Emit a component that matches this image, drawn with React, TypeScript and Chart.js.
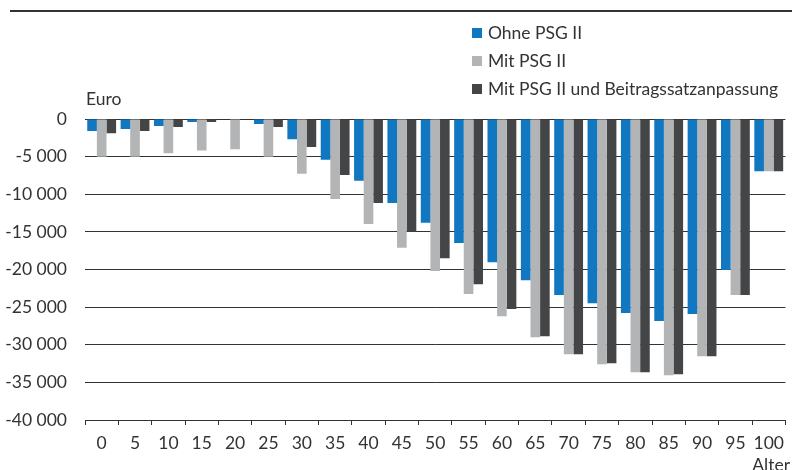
import React, { useEffect, useRef } from "react";
import { Chart, registerables } from "chart.js";

Chart.register(...registerables);

const ages = ["0", "5", "10", "15", "20", "25", "30", "35", "40", "45", "50", "55", "60", "65", "70", "75", "80", "85", "90", "95", "100"];
const ohnePSG = [-1600, -1340, -940, -400, 0, -670, -2680, -5400, -8190, -11170, -13780, -16490, -19020, -21420, -23380, -24480, -25770, -26830, -25900, -20050, -6950];
const mitPSG = [-5000, -5000, -4560, -4200, -4020, -5000, -7260, -10640, -13960, -17100, -20200, -23250, -26210, -29000, -31260, -32590, -33660, -34060, -31530, -23380, -6950];
const mitBeitrag = [-1880, -1600, -1070, -400, 0, -1070, -3720, -7450, -11170, -14980, -18490, -21950, -25240, -28860, -31260, -32460, -33660, -33930, -31530, -23380, -6950];
const seriesNames = ["Ohne PSG II", "Mit PSG II", "Mit PSG II und Beitragssatzanpassung"];
const seriesColors = ["#1177C0", "#B2B4B5", "#444547"];
const yMin = -40000;
const yMax = 0;
const yStep = 5000;
const yTitle = "Euro";
const xTitle = "Alter";

const FONT = "Lato, 'Noto Sans', sans-serif";
const FS = 17.5;

function fmt(v: number): string {
  const s = Math.abs(v).toString().replace(/\B(?=(\d{3})+(?!\d))/g, " ");
  return (v < 0 ? "-" : "") + s;
}

const decorPlugin = {
  id: "decor",
  afterDraw(chart: any) {
    const ctx = chart.ctx;
    const area = chart.chartArea;
    ctx.save();
    ctx.strokeStyle = "#333333";
    ctx.lineWidth = 2;
    ctx.beginPath();
    ctx.moveTo(10, 11);
    ctx.lineTo(chart.width, 11);
    ctx.stroke();
    ctx.font = FS + "px " + FONT;
    ctx.textBaseline = "middle";
    ctx.textAlign = "left";
    chart.data.datasets.forEach((ds: any, i: number) => {
      const cy = 33 + i * 28;
      ctx.fillStyle = ds.backgroundColor;
      ctx.fillRect(472, cy - 5, 10, 10);
      ctx.fillStyle = "#333333";
      ctx.fillText(ds.label, 488, cy);
    });
    ctx.fillStyle = "#333333";
    ctx.fillText(yTitle, area.left + 1, 99);
    ctx.textAlign = "right";
    ctx.fillText(xTitle, chart.width - 2, 465);
    ctx.restore();
  },
};

export default function App() {
  const ref = useRef<HTMLCanvasElement | null>(null);
  useEffect(() => {
    document.body.style.margin = "0";
    const canvas = ref.current;
    if (!canvas) return;
    const datasets = [ohnePSG, mitPSG, mitBeitrag].map((d, i) => ({
      label: seriesNames[i],
      data: d,
      backgroundColor: seriesColors[i],
      borderWidth: 0,
      categoryPercentage: 0.865,
      barPercentage: 1.0,
    }));
    const chart = new Chart(canvas, {
      type: "bar",
      data: { labels: ages, datasets },
      options: {
        animation: false,
        responsive: false,
        maintainAspectRatio: false,
        layout: { padding: { top: 119, right: 1, left: 0, bottom: 0 } },
        plugins: { legend: { display: false }, tooltip: { enabled: false } },
        scales: {
          x: {
            grid: { display: true, drawOnChartArea: false, drawTicks: true, tickLength: 5, offset: true, color: "#333333", lineWidth: 1 },
            border: { display: true, color: "#333333", width: 1 },
            ticks: { color: "#333333", font: { family: FONT, size: FS }, padding: 8, maxRotation: 0, autoSkip: false },
            afterFit: (s: any) => { s.height = 50; },
          },
          y: {
            min: yMin,
            max: yMax,
            grid: { color: "#333333", lineWidth: 1, drawTicks: false },
            border: { display: false },
            ticks: { stepSize: yStep, color: "#333333", font: { family: FONT, size: FS }, padding: 18, callback: (v: any) => fmt(Number(v)) },
            afterFit: (s: any) => { s.width = 85; },
          },
        },
      },
      plugins: [decorPlugin],
    });
    return () => chart.destroy();
  }, []);
  return (
    <div style={{ width: 792, height: 470, position: "relative" }}>
      <canvas ref={ref} width={792} height={470} style={{ width: 792, height: 470, display: "block" }} />
    </div>
  );
}
